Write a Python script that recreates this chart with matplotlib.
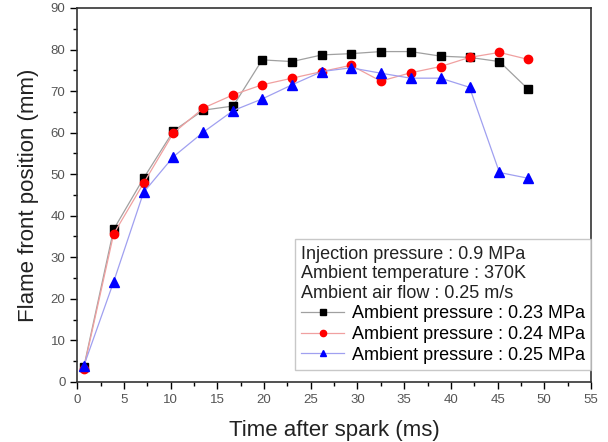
# flame front position vs time after spark

import matplotlib
matplotlib.use("Agg")
import matplotlib.pyplot as plt
from matplotlib.ticker import MultipleLocator

plt.rcParams['font.family'] = ['Liberation Sans', 'DejaVu Sans']

time_ms = [0.7, 3.9, 7.1, 10.3, 13.5, 16.7, 19.8, 23.0, 26.2, 29.3, 32.5, 35.7, 38.9, 42.0, 45.2, 48.3]
p023 = [3.5, 36.7, 49.0, 60.4, 65.4, 66.4, 77.5, 77.1, 78.7, 79.0, 79.5, 79.5, 78.4, 78.1, 77.1, 70.4]
p024 = [3.2, 35.6, 47.8, 59.9, 65.9, 69.1, 71.5, 73.1, 74.7, 76.2, 72.4, 74.4, 75.9, 78.1, 79.3, 77.6]
p025 = [3.8, 24.1, 45.6, 54.2, 60.1, 65.3, 68.1, 71.5, 74.7, 75.6, 74.3, 73.1, 73.1, 70.9, 50.4, 49.0]

labels = ["Ambient pressure : 0.23 MPa",
          "Ambient pressure : 0.24 MPa",
          "Ambient pressure : 0.25 MPa"]
conditions = "Injection pressure : 0.9 MPa\nAmbient temperature : 370K\nAmbient air flow : 0.25 m/s"

fig = plt.figure(figsize=(6.08, 4.42), dpi=100)
ax = fig.add_axes([0.127, 0.136, 0.845, 0.846])

ax.plot(time_ms, p023, color='#a0a0a0', lw=0.9, marker='s', ms=5.5,
        mfc='black', mec='black', label=labels[0])
ax.plot(time_ms, p024, color='#f0a0a0', lw=0.9, marker='o', ms=6,
        mfc='red', mec='red', label=labels[1])
ax.plot(time_ms, p025, color='#a0a0f0', lw=0.9, marker='^', ms=6.5,
        mfc='blue', mec='blue', label=labels[2])

ax.set_xlim(0, 55)
ax.set_ylim(0, 90)
ax.xaxis.set_major_locator(MultipleLocator(5))
ax.xaxis.set_minor_locator(MultipleLocator(2.5))
ax.yaxis.set_major_locator(MultipleLocator(10))
ax.yaxis.set_minor_locator(MultipleLocator(5))
ax.tick_params(which='major', direction='out', length=5, width=1, labelsize=9.5,
               labelcolor='#555555')
ax.tick_params(which='minor', direction='out', length=3, width=1)
for s in ax.spines.values():
    s.set_linewidth(1.2)
    s.set_color('#333333')

ax.set_xlabel("Time after spark (ms)", fontsize=16, color='#222222', labelpad=10)
ax.set_ylabel("Flame front position (mm)", fontsize=16, color='#222222', labelpad=8)

leg = ax.legend(title=conditions, alignment='left', loc='lower right',
                bbox_to_anchor=(1.0, 0.032), fontsize=13, title_fontsize=13,
                handlelength=2.4, handletextpad=0.4, labelspacing=0.2,
                borderpad=0.35, borderaxespad=0.0, fancybox=False,
                edgecolor='#bbbbbb', markerscale=0.75)
leg.get_frame().set_linewidth(1.0)
leg.get_title().set_color('#222222')

fig.savefig("out.png", dpi=100)
